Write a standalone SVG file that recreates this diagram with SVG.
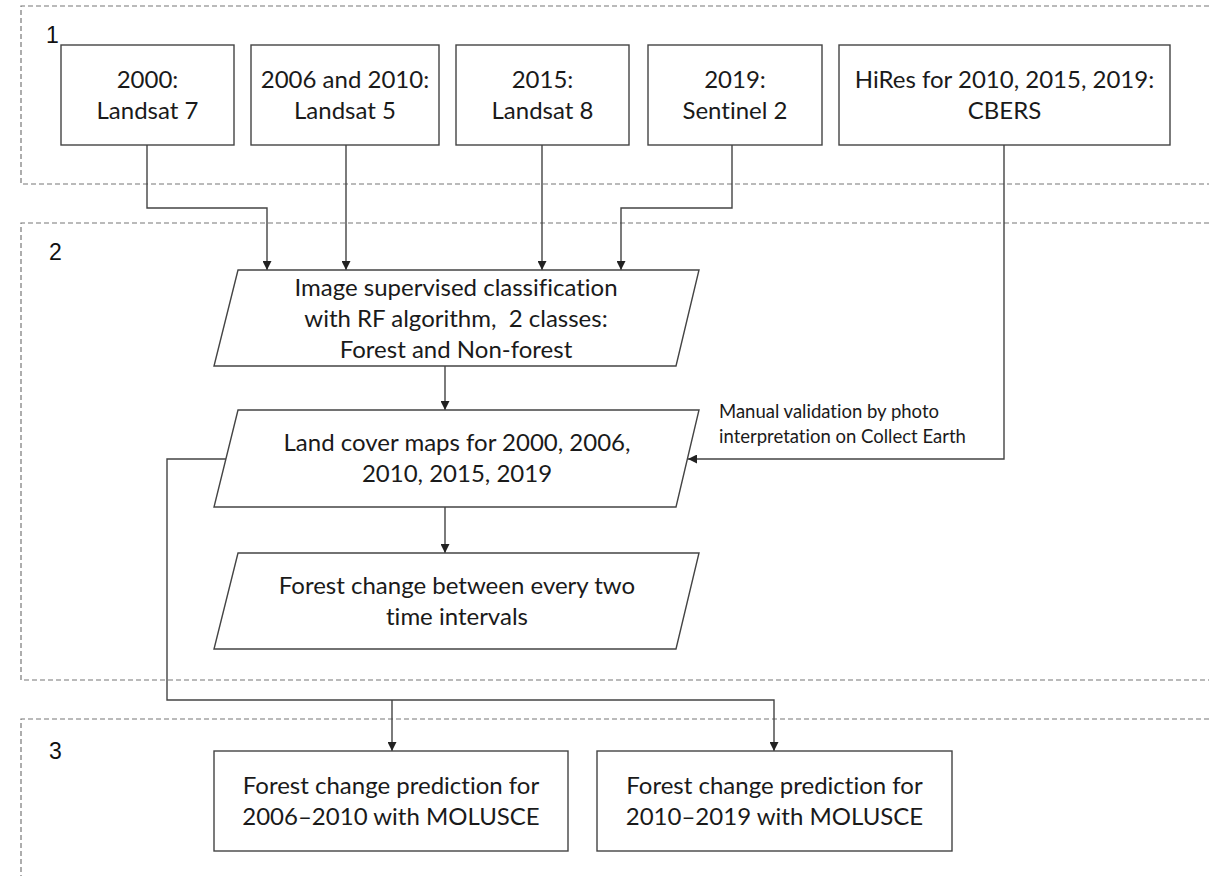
<svg xmlns="http://www.w3.org/2000/svg" width="1209" height="876" viewBox="0 0 1209 876">
<style>
.region{fill:none;stroke:#777;stroke-width:1.2;stroke-dasharray:5 3}
.box{fill:#fff;stroke:#444;stroke-width:1.4}
.t{font-family:Lato,"Open Sans","Liberation Sans",sans-serif;font-size:24px;fill:#1a1a1a;text-anchor:middle;font-variant-ligatures:none;white-space:pre}
.s{font-family:Lato,"Open Sans","Liberation Sans",sans-serif;font-size:18.5px;fill:#1a1a1a;font-variant-ligatures:none}
.num{font-family:"Liberation Sans",Arial,sans-serif;font-size:23px;fill:#111}
.c{fill:none;stroke:#444;stroke-width:1.4}
</style>
<defs>
<marker id="ah" viewBox="0 0 10 10" refX="10" refY="5" markerWidth="9" markerHeight="9" markerUnits="userSpaceOnUse" orient="auto">
<path d="M0,0 L10,5 L0,10 z" fill="#222"/>
</marker>
</defs>
<rect width="1209" height="876" fill="#fff"/>
<g id="regions">
<path class="region" d="M1209,6 H21 V184 H1209"/>
<path class="region" d="M1209,223 H21 V680 H1209"/>
<path class="region" d="M1209,719 H21 V876"/>
<text class="num" x="46" y="43">1</text>
<text class="num" x="49" y="260">2</text>
<text class="num" x="49" y="759">3</text>
</g>
<g id="connectors">
<path class="c" d="M147,145 V208 H267 V270" marker-end="url(#ah)"/>
<path class="c" d="M346,145 V270" marker-end="url(#ah)"/>
<path class="c" d="M542,145 V270" marker-end="url(#ah)"/>
<path class="c" d="M732,145 V208 H621 V270" marker-end="url(#ah)"/>
<path class="c" d="M1004,145 V459 H688" marker-end="url(#ah)"/>
<path class="c" d="M445,366 V410" marker-end="url(#ah)"/>
<path class="c" d="M445,507 V553" marker-end="url(#ah)"/>
<path class="c" d="M226,459 H167 V700 H774 V751" marker-end="url(#ah)"/>
<path class="c" d="M392,700 V751" marker-end="url(#ah)"/>
<text class="s" x="719" y="418">Manual validation by photo</text>
<text class="s" x="719" y="443">interpretation on Collect Earth</text>
</g>
<g id="n1">
<rect class="box" x="61" y="45" width="173" height="100"/>
<text class="t" x="147.5" y="88">2000:</text>
<text class="t" x="147.5" y="119">Landsat 7</text>
</g>
<g id="n2">
<rect class="box" x="251" y="45" width="188" height="100"/>
<text class="t" x="345" y="88">2006 and 2010:</text>
<text class="t" x="345" y="119">Landsat 5</text>
</g>
<g id="n3">
<rect class="box" x="456" y="45" width="173" height="100"/>
<text class="t" x="542.5" y="88">2015:</text>
<text class="t" x="542.5" y="119">Landsat 8</text>
</g>
<g id="n4">
<rect class="box" x="648" y="45" width="174" height="100"/>
<text class="t" x="735" y="88">2019:</text>
<text class="t" x="735" y="119">Sentinel 2</text>
</g>
<g id="n5">
<rect class="box" x="839" y="45" width="331" height="100"/>
<text class="t" x="1004.5" y="88">HiRes for 2010, 2015, 2019:</text>
<text class="t" x="1004.5" y="119">CBERS</text>
</g>
<g id="p1">
<polygon class="box" points="238,270 699,270 676,366 214,366"/>
<text class="t" x="456" y="296">Image supervised classification</text>
<text class="t" x="456" y="327">with RF algorithm,  2 classes:</text>
<text class="t" x="456" y="358">Forest and Non-forest</text>
</g>
<g id="p2">
<polygon class="box" points="238,410 699,410 676,507 214,507"/>
<text class="t" x="457" y="451">Land cover maps for 2000, 2006,</text>
<text class="t" x="457" y="482">2010, 2015, 2019</text>
</g>
<g id="p3">
<polygon class="box" points="238,553 699,553 676,649 214,649"/>
<text class="t" x="457" y="594">Forest change between every two</text>
<text class="t" x="457" y="625">time intervals</text>
</g>
<g id="b1">
<rect class="box" x="214" y="751" width="354" height="100"/>
<text class="t" x="391" y="794">Forest change prediction for</text>
<text class="t" x="391" y="825">2006–2010 with MOLUSCE</text>
</g>
<g id="b2">
<rect class="box" x="597" y="751" width="355" height="100"/>
<text class="t" x="774.5" y="794">Forest change prediction for</text>
<text class="t" x="774.5" y="825">2010–2019 with MOLUSCE</text>
</g>
</svg>
